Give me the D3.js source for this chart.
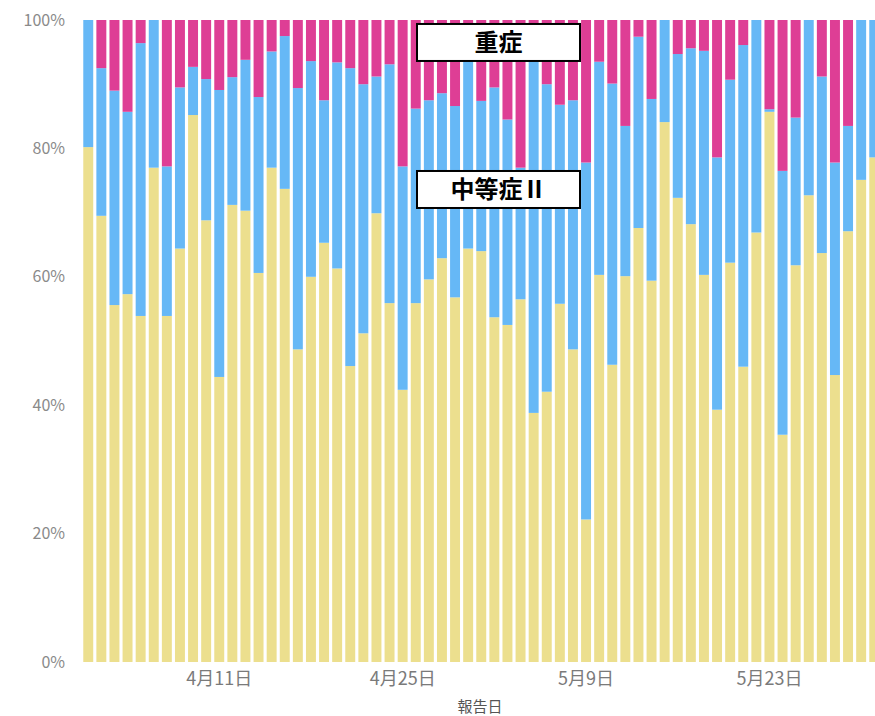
<!DOCTYPE html>
<html>
<head>
<meta charset="utf-8">
<script src="https://cdn.jsdelivr.net/npm/d3@7"></script>
<style>
  html, body { margin: 0; padding: 0; background: #fff; }
  svg { display: block; }
</style>
</head>
<body>
<svg id="chart" width="875" height="716"></svg>
<script>
// Report dates: 2021-04-01 .. 2021-05-31 (one bar per day)
const dates = d3.timeDay.range(new Date(2021, 3, 1), new Date(2021, 5, 1));

// Share of mild (yellow), moderate II (blue), severe (pink), in percent
const mild = [80.2, 69.5, 55.6, 57.3, 53.9, 77.0, 53.9, 64.4, 85.2, 68.8,
              44.4, 71.2, 70.3, 60.6, 77.0, 73.7, 48.7, 60.0, 65.3, 61.3,
              46.1, 51.2, 69.9, 55.9, 42.4, 55.9, 59.6, 62.9, 56.8, 64.4,
              64.0, 53.7, 52.5, 56.5, 38.8, 42.1, 55.8, 48.7, 22.2, 60.3,
              46.3, 60.1, 67.6, 59.4, 84.1, 72.3, 68.2, 60.3, 39.3, 62.2,
              46.0, 66.9, 85.7, 35.4, 61.8, 72.7, 63.7, 44.7, 67.1, 75.1,
              78.6];
const moderate = [19.8, 23.0, 33.4, 28.4, 42.5, 23.0, 23.3, 25.1, 7.5, 22.0,
                  44.7, 19.9, 23.5, 27.4, 18.1, 23.8, 40.7, 33.6, 22.2, 32.1,
                  46.4, 38.8, 21.3, 37.2, 34.8, 30.3, 27.9, 25.7, 29.8, 30.6,
                  23.4, 35.8, 32.0, 20.5, 57.2, 47.9, 31.0, 38.8, 55.6, 33.2,
                  43.8, 23.4, 29.8, 28.3, 15.9, 22.4, 27.4, 34.9, 39.3, 28.5,
                  50.1, 33.1, 0.4, 41.1, 23.0, 27.3, 27.5, 33.1, 16.4, 24.9,
                  21.4];
const severe = [0.0, 7.5, 11.0, 14.3, 3.6, 0.0, 22.8, 10.5, 7.3, 9.2,
                10.9, 8.9, 6.2, 12.0, 4.9, 2.5, 10.6, 6.4, 12.5, 6.6,
                7.5, 10.0, 8.8, 6.9, 22.8, 13.8, 12.5, 11.4, 13.4, 5.0,
                12.6, 10.5, 15.5, 23.0, 4.0, 10.0, 13.2, 12.5, 22.2, 6.5,
                9.9, 16.5, 2.6, 12.3, 0.0, 5.3, 4.4, 4.8, 21.4, 9.3,
                3.9, 0.0, 13.9, 23.5, 15.2, 0.0, 8.8, 22.2, 16.5, 0.0,
                0.0];

const seriesKeys = ["mild", "moderate", "severe"];
const seriesColors = ["#ECDF8E", "#66B8F6", "#DE3E95"];
const yTicks = [0, 20, 40, 60, 80, 100];
const xTickDates = [new Date(2021, 3, 11), new Date(2021, 3, 25), new Date(2021, 4, 9), new Date(2021, 4, 23)];
const xTitle = "報告日";
const labels = [{ text: "重症", value: 96.5 }, { text: "中等症Ⅱ", value: 73.6 }];

const rows = dates.map((d, i) => ({ date: d, mild: mild[i], moderate: moderate[i], severe: severe[i] }));

const svg = d3.select("#chart");
const font = "'Noto Sans CJK JP', 'Noto Sans', sans-serif";

const x = d3.scaleBand()
  .domain(dates.map(d => +d))
  .range([81.7, 880.8])
  .paddingInner(0.24)
  .paddingOuter(0.12);

const y = d3.scaleLinear().domain([0, 100]).range([662, 20]);

const stack = d3.stack().keys(seriesKeys).offset(d3.stackOffsetExpand);
const stacked = stack(rows);

svg.append("g")
  .selectAll("g")
  .data(stacked)
  .join("g")
  .attr("fill", (d, i) => seriesColors[i])
  .selectAll("rect")
  .data(d => d)
  .join("rect")
  .attr("x", d => x(+d.data.date))
  .attr("width", x.bandwidth())
  .attr("y", d => y(d[1] * 100))
  .attr("height", d => y(d[0] * 100) - y(d[1] * 100));

// Y axis (labels only)
const yAxis = svg.append("g")
  .attr("transform", "translate(65,0)")
  .call(d3.axisLeft(y).tickValues(yTicks).tickFormat(d => d + "%").tickSize(0).tickPadding(0));
yAxis.select(".domain").remove();
yAxis.selectAll("text")
  .attr("fill", "#8a8a8a")
  .style("font-family", font)
  .style("font-size", "16px");

// X axis (labels only)
const xAxis = svg.append("g")
  .attr("transform", "translate(0,672)")
  .call(d3.axisBottom(x).tickValues(xTickDates.map(d => +d))
    .tickFormat(d => { const t = new Date(d); return (t.getMonth() + 1) + "月" + t.getDate() + "日"; })
    .tickSize(0).tickPadding(0));
xAxis.select(".domain").remove();
xAxis.selectAll("text")
  .attr("fill", "#7a7a7a")
  .attr("dy", "0.71em")
  .style("font-family", font)
  .style("font-size", "18px");

svg.append("text")
  .attr("x", 480)
  .attr("y", 707)
  .attr("dy", "0.35em")
  .attr("text-anchor", "middle")
  .attr("fill", "#555")
  .style("font-family", font)
  .style("font-size", "15px")
  .text(xTitle);

// Annotation boxes
const boxX0 = 417, boxX1 = 580, boxH = 37;
labels.forEach(l => {
  const cy = y(l.value);
  svg.append("rect")
    .attr("x", boxX0)
    .attr("y", cy - boxH / 2)
    .attr("width", boxX1 - boxX0)
    .attr("height", boxH)
    .attr("fill", "#fff")
    .attr("stroke", "#000")
    .attr("stroke-width", 2);
  svg.append("text")
    .attr("x", (boxX0 + boxX1) / 2)
    .attr("y", cy)
    .attr("dy", "0.36em")
    .attr("text-anchor", "middle")
    .attr("fill", "#000")
    .style("font-family", font)
    .style("font-weight", "bold")
    .style("font-size", "24px")
    .text(l.text);
});
</script>
</body>
</html>
